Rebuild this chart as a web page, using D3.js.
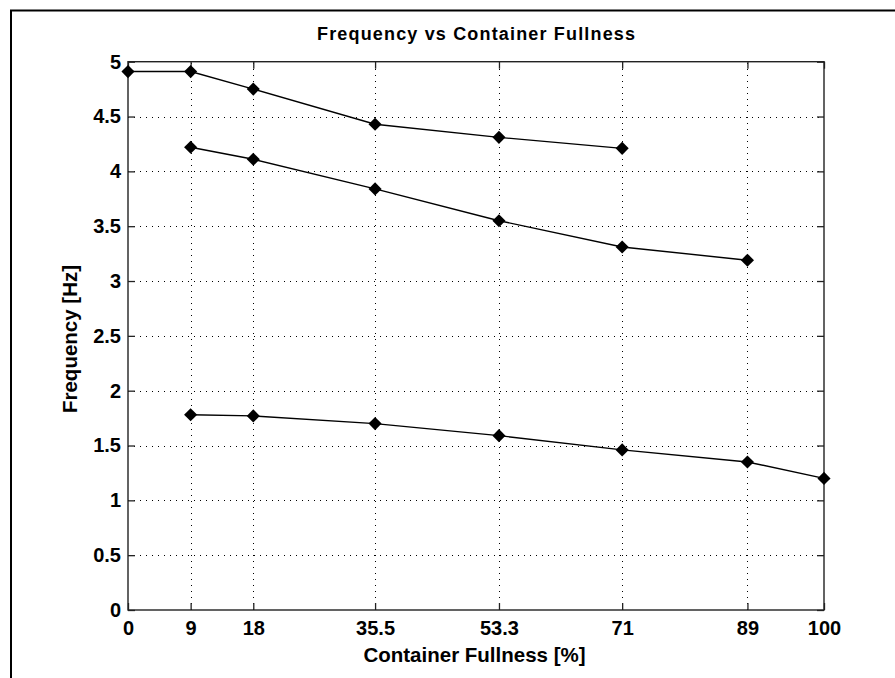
<!DOCTYPE html>
<html>
<head>
<meta charset="utf-8">
<script src="https://cdn.jsdelivr.net/npm/d3@7"></script>
<style>
  html, body { margin: 0; padding: 0; background: #fff; }
  svg { display: block; }
</style>
</head>
<body>
<svg id="chart" width="895" height="678"></svg>
<script>
// ---- data ----
const titleText = "Frequency vs Container Fullness";
const xLabelText = "Container Fullness [%]";
const yLabelText = "Frequency [Hz]";
const xTicks = [0, 9, 18, 35.5, 53.3, 71, 89, 100];
const xTickLabels = ["0", "9", "18", "35.5", "53.3", "71", "89", "100"];
const yTicks = [0, 0.5, 1, 1.5, 2, 2.5, 3, 3.5, 4, 4.5, 5];
const yTickLabels = ["0", "0.5", "1", "1.5", "2", "2.5", "3", "3.5", "4", "4.5", "5"];

const series1X = [0, 9, 18, 35.5, 53.3, 71];
const series1Y = [4.91, 4.91, 4.75, 4.43, 4.31, 4.21];
const series2X = [9, 18, 35.5, 53.3, 71, 89];
const series2Y = [4.22, 4.11, 3.84, 3.55, 3.31, 3.19];
const series3X = [9, 18, 35.5, 53.3, 71, 89, 100];
const series3Y = [1.78, 1.77, 1.70, 1.59, 1.46, 1.35, 1.20];

const seriesList = [
  series1X.map((x, i) => [x, series1Y[i]]),
  series2X.map((x, i) => [x, series2Y[i]]),
  series3X.map((x, i) => [x, series3Y[i]])
];

// ---- layout ----
const svg = d3.select("#chart");
const L = 128, R = 824, T = 61.7, B = 610;
const x = d3.scaleLinear().domain([0, 100]).range([L, R]);
const y = d3.scaleLinear().domain([0, 5]).range([B, T]);

// outer frame
svg.append("rect")
  .attr("x", 11).attr("y", 10.5)
  .attr("width", 900).attr("height", 700)
  .attr("fill", "#fff").attr("stroke", "#000").attr("stroke-width", 2);

// grid
const grid = svg.append("g").attr("stroke", "#000").attr("stroke-width", 1)
  .attr("stroke-dasharray", "1,5");
grid.selectAll("line.gx").data(xTicks.filter(v => v > 0 && v < 100)).join("line")
  .attr("class", "gx")
  .attr("x1", d => Math.round(x(d)) + 0.5).attr("x2", d => Math.round(x(d)) + 0.5)
  .attr("y1", B).attr("y2", T);
grid.selectAll("line.gy").data(yTicks.filter(v => v > 0 && v < 5)).join("line")
  .attr("class", "gy")
  .attr("y1", d => Math.round(y(d)) + 0.5).attr("y2", d => Math.round(y(d)) + 0.5)
  .attr("x1", L).attr("x2", R);

// axes
const tickFont = "bold 20px 'Liberation Sans', Arial, sans-serif";
const xAxis = svg.append("g").attr("transform", `translate(0,${B})`)
  .call(d3.axisBottom(x).tickValues(xTicks).tickFormat((d, i) => xTickLabels[i])
    .tickSize(-7).tickPadding(11));
const yAxis = svg.append("g").attr("transform", `translate(${L},0)`)
  .call(d3.axisLeft(y).tickValues(yTicks).tickFormat((d, i) => yTickLabels[i])
    .tickSize(-7).tickPadding(7));
const xTop = svg.append("g").attr("transform", `translate(0,${T})`)
  .call(d3.axisTop(x).tickValues(xTicks).tickFormat("").tickSize(-7));
const yRight = svg.append("g").attr("transform", `translate(${R},0)`)
  .call(d3.axisRight(y).tickValues(yTicks).tickFormat("").tickSize(-7));

[xAxis, yAxis, xTop, yRight].forEach(g => {
  g.select(".domain").remove();
  g.selectAll(".tick line").attr("stroke", "#222").attr("stroke-width", 1.3);
  g.selectAll("text").style("font", tickFont).attr("fill", "#000");
});

// box
svg.append("rect")
  .attr("x", L).attr("y", T).attr("width", R - L).attr("height", B - T)
  .attr("fill", "none").attr("stroke", "#222").attr("stroke-width", 1.4);

// series lines
const line = d3.line().x(d => x(d[0])).y(d => y(d[1]));
svg.append("g").selectAll("path").data(seriesList).join("path")
  .attr("d", line).attr("fill", "none").attr("stroke", "#000").attr("stroke-width", 1.4);

// markers
const diamond = d3.symbol(d3.symbolSquare, 86);
seriesList.forEach(s => {
  svg.append("g").selectAll("path").data(s).join("path")
    .attr("d", diamond)
    .attr("transform", d => `translate(${x(d[0])},${y(d[1])}) rotate(45)`)
    .attr("fill", "#000");
});

// title
svg.append("text")
  .attr("x", (L + R) / 2).attr("y", 40)
  .attr("text-anchor", "middle")
  .style("font", "bold 18px 'Liberation Sans', Arial, sans-serif")
  .attr("textLength", 318).attr("lengthAdjust", "spacing")
  .text(titleText);

// x label
svg.append("text")
  .attr("x", 474.5).attr("y", 662)
  .attr("text-anchor", "middle")
  .style("font", "bold 20.5px 'Liberation Sans', Arial, sans-serif")
  .text(xLabelText);

// y label
svg.append("text")
  .attr("transform", "translate(77,339) rotate(-90)")
  .attr("text-anchor", "middle")
  .style("font", "bold 20.5px 'Liberation Sans', Arial, sans-serif")
  .text(yLabelText);
</script>
</body>
</html>
